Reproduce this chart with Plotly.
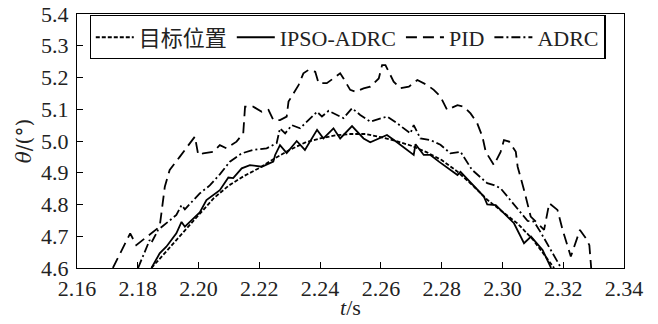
import plotly.graph_objects as go

# ---- data ----
t_ref = [2.1845, 2.19, 2.195, 2.20, 2.205, 2.21, 2.215, 2.22, 2.225, 2.23, 2.235, 2.24, 2.245,
         2.25, 2.255, 2.26, 2.265, 2.27, 2.275, 2.28, 2.285, 2.29, 2.295, 2.30, 2.305, 2.31, 2.315, 2.317]
v_ref = [4.60, 4.66, 4.712, 4.768, 4.82, 4.86, 4.89, 4.915, 4.945, 4.972, 4.995, 5.008, 5.018,
         5.022, 5.022, 5.012, 5.0, 4.985, 4.965, 4.94, 4.905, 4.862, 4.815, 4.777, 4.74, 4.69, 4.625, 4.6]

t_ipso = [2.1845, 2.1872, 2.1894, 2.1927, 2.1944, 2.1955, 2.2004, 2.2026, 2.207, 2.2098, 2.2114,
          2.2142, 2.2169, 2.2208, 2.2246, 2.2252, 2.2268, 2.229, 2.2323, 2.235, 2.239, 2.2411,
          2.2444, 2.2466, 2.2505, 2.2543, 2.2565, 2.262, 2.2653, 2.2708, 2.2714, 2.2741, 2.2763,
          2.2791, 2.2852, 2.2862, 2.2939, 2.295, 2.2978, 2.3038, 2.3071, 2.3094, 2.3132, 2.316]
v_ipso = [4.60, 4.646, 4.667, 4.709, 4.745, 4.73, 4.775, 4.814, 4.845, 4.885, 4.883,
          4.914, 4.924, 4.919, 4.935, 4.956, 4.987, 4.962, 5.0, 4.972, 5.035, 5.008,
          5.04, 5.008, 5.047, 5.008, 4.996, 5.019, 4.996, 4.956, 4.99, 4.956, 4.956,
          4.935, 4.893, 4.903, 4.825, 4.80, 4.798, 4.741, 4.678, 4.699, 4.657, 4.6]

t_pid = [2.1718, 2.1775, 2.1795, 2.1872, 2.1889, 2.1905, 2.1938, 2.1971, 2.1988, 2.1999, 2.2015,
         2.2048, 2.207, 2.2092, 2.2125, 2.2147, 2.2153, 2.218, 2.2208, 2.223, 2.2246, 2.2268,
         2.229, 2.2296, 2.2329, 2.2345, 2.2362, 2.2384, 2.2395, 2.2422, 2.2466, 2.2477, 2.2499,
         2.2516, 2.2543, 2.2565, 2.2593, 2.2604, 2.2615, 2.2642, 2.2664, 2.2692, 2.272, 2.2753,
         2.2774, 2.2796, 2.2818, 2.2852, 2.2873, 2.2895, 2.2917, 2.2934, 2.2945, 2.2972, 2.2994,
         2.3005, 2.3022, 2.3044, 2.305, 2.3071, 2.3093, 2.3137, 2.3154, 2.3181, 2.3198, 2.3225,
         2.3255, 2.3275, 2.3286, 2.3292]
v_pid = [4.60, 4.709, 4.672, 4.73, 4.856, 4.909, 4.95, 4.993, 5.014, 4.956, 4.961,
         4.966, 4.987, 4.977, 4.998, 5.024, 5.108, 5.108, 5.092, 5.098, 5.066, 5.066,
         5.077, 5.124, 5.176, 5.213, 5.224, 5.218, 5.182, 5.182, 5.213, 5.197, 5.161,
         5.155, 5.166, 5.171, 5.197, 5.239, 5.239, 5.187, 5.166, 5.171, 5.192, 5.176,
         5.161, 5.14, 5.098, 5.113, 5.108, 5.087, 5.056, 5.014, 4.966, 4.924, 4.966,
         5.003, 4.998, 4.966, 4.919, 4.846, 4.762, 4.72, 4.804, 4.783, 4.72, 4.636,
         4.72, 4.693, 4.672, 4.60]

t_adrc = [2.1801, 2.1839, 2.1845, 2.1867, 2.1927, 2.1944, 2.1955, 2.1982, 2.2004, 2.2037, 2.207,
          2.2103, 2.2142, 2.218, 2.2224, 2.2257, 2.2268, 2.2285, 2.2307, 2.2334, 2.239, 2.2406,
          2.2428, 2.2477, 2.2505, 2.2532, 2.2565, 2.262, 2.2653, 2.2697, 2.2708, 2.273, 2.2763,
          2.2796, 2.2829, 2.2862, 2.29, 2.295, 2.2972, 2.2994, 2.3027, 2.3083, 2.3104, 2.3126, 2.3193]
v_adrc = [4.60, 4.688, 4.68, 4.72, 4.767, 4.798, 4.785, 4.814, 4.835, 4.86, 4.895,
          4.935, 4.961, 4.972, 4.977, 4.993, 5.04, 5.024, 5.05, 5.04, 5.092, 5.077,
          5.095, 5.072, 5.103, 5.082, 5.061, 5.077, 5.056, 5.024, 5.05, 5.008, 5.003,
          4.988, 4.961, 4.966, 4.909, 4.867, 4.861, 4.851, 4.814, 4.748, 4.746, 4.712, 4.6]

names = ["目标位置", "IPSO-ADRC", "PID", "ADRC"]
x_ticks = [2.16, 2.18, 2.20, 2.22, 2.24, 2.26, 2.28, 2.30, 2.32, 2.34]
y_ticks = [4.6, 4.7, 4.8, 4.9, 5.0, 5.1, 5.2, 5.3, 5.4]

SERIF = "Liberation Serif, Times New Roman, Noto Sans CJK SC"
TXT = "#222"

fig = go.Figure()
fig.add_trace(go.Scatter(x=t_ref, y=v_ref, name=names[0], mode="lines",
                         line=dict(color="black", width=1.8, dash="4px,2px")))
fig.add_trace(go.Scatter(x=t_ipso, y=v_ipso, name=names[1], mode="lines",
                         line=dict(color="black", width=1.8)))
fig.add_trace(go.Scatter(x=t_pid, y=v_pid, name=names[2], mode="lines",
                         line=dict(color="black", width=1.8, dash="11px,6px")))
fig.add_trace(go.Scatter(x=t_adrc, y=v_adrc, name=names[3], mode="lines",
                         line=dict(color="black", width=1.8, dash="9px,3px,2px,3px")))

axis_common = dict(showline=True, linecolor="black", linewidth=1.2, mirror=True,
                   ticks="inside", ticklen=6, tickcolor="black", tickwidth=1,
                   showgrid=False, zeroline=False, automargin=False)

fig.update_xaxes(range=[2.16, 2.34], tickvals=x_ticks,
                 ticktext=[f"{v:.2f}" for v in x_ticks],
                 tickfont=dict(family="Times New Roman", size=22, color=TXT),
                 title=dict(text="<i>t</i>/s", font=dict(family="Liberation Serif", size=22, color=TXT), standoff=0),
                 ticklabelstandoff=0, **axis_common)
fig.update_yaxes(range=[4.6, 5.4], tickvals=y_ticks,
                 ticktext=[f"{v:.1f}" for v in y_ticks],
                 tickfont=dict(family="serif", size=22, color=TXT),
                 title=dict(text="<i>θ</i>/(°)", font=dict(family="DejaVu Serif", size=20, color=TXT), standoff=4),
                 ticklabelstandoff=3, **axis_common)

fig.update_layout(
    template="none",
    width=658, height=324,
    margin=dict(l=77, r=34, t=14, b=56, autoexpand=False),
    paper_bgcolor="white", plot_bgcolor="white",
    font=dict(family=SERIF, color=TXT),
    legend=dict(orientation="h", x=0.023, y=0.995, xanchor="left", yanchor="top",
                bordercolor="black", borderwidth=1.2, bgcolor="white",
                font=dict(family=SERIF, size=22, color=TXT),
                itemwidth=38, tracegroupgap=0),
    showlegend=True,
)

fig.write_html("out.html", config={"displayModeBar": False},
               post_script="document.body.style.margin='0';document.body.style.padding='0';")
